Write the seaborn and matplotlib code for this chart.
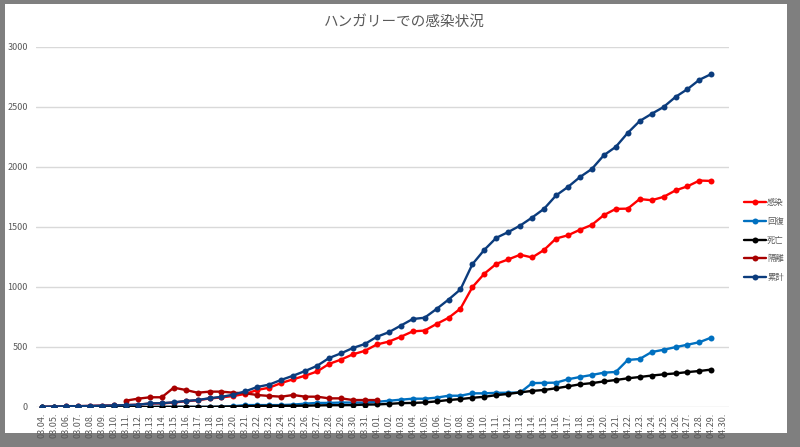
import numpy as np
import pandas as pd
import matplotlib
matplotlib.use('Agg')
import matplotlib.pyplot as plt
import seaborn as sns
from matplotlib.lines import Line2D
from matplotlib.patches import Rectangle

# x axis labels (03.04. - 04.30.)
dates = [f'03.{d:02d}.' for d in range(4, 32)] + [f'04.{d:02d}.' for d in range(1, 31)]

nan = np.nan
infected = [2, 4, 7, 7, 9, 12, 13, 16, 19, 29, 30, 37, 48, 56, 71, 80, 92, 109, 142, 161,
            200, 231, 261, 296, 359, 395, 439, 468, 521, 545, 585, 630, 637, 692, 743, 820,
            999, 1111, 1193, 1230, 1269, 1246, 1309, 1404, 1431, 1477, 1518, 1599, 1651, 1653,
            1733, 1723, 1751, 1805, 1839, 1887, 1884]
recovered = [0, 0, 0, 0, 0, 0, 0, 0, 0, 1, 1, 1, 1, 1, 1, 2, 7, 16, 16, 16,
             16, 20, 28, 34, 34, 37, 37, 37, 43, 52, 61, 69, 69, 78, 94, 94,
             114, 114, 118, 119, 121, 199, 201, 203, 231, 250, 267, 286, 292, 392,
             400, 458, 477, 499, 519, 540, 579]
deaths = [0, 0, 0, 0, 0, 0, 0, 0, 0, 0, 1, 1, 1, 1, 1, 3, 4, 6, 9, 10,
          10, 10, 11, 13, 15, 15, 16, 20, 21, 26, 32, 34, 38, 47, 58, 66,
          77, 85, 99, 109, 122, 134, 142, 156, 172, 189, 199, 213, 225, 239,
          250, 262, 272, 280, 291, 300, 312]
quarantine = [nan] * 7 + [53, 69, 81, 81, 161, 142, 119, 128, 128, 119, 114, 100, 92, 86,
                          100, 86, 86, 72, 72, 58, 58, 58] + [nan] * 28
total = [2, 4, 7, 7, 9, 12, 13, 16, 19, 30, 32, 39, 50, 58, 73, 85, 103, 131, 167, 187,
         226, 261, 300, 343, 408, 447, 492, 525, 585, 623, 678, 733, 744, 817, 895, 980,
         1190, 1310, 1410, 1458, 1512, 1579, 1652, 1763, 1834, 1916, 1984, 2098, 2168, 2284,
         2383, 2443, 2500, 2584, 2649, 2727, 2775]

names = ['感染', '回復', '死亡', '隔離', '累計']
colors = ['#FF0000', '#0070C0', '#000000', '#A80000', '#0B3C7D']

df = pd.DataFrame({'pos': np.arange(len(total)), '感染': infected, '回復': recovered,
                   '死亡': deaths, '隔離': quarantine, '累計': total})
long = df.melt(id_vars='pos', var_name='series', value_name='value').dropna()

sns.set_style('white')
plt.rcParams['font.family'] = ['Noto Sans CJK JP', 'DejaVu Sans']

fig = plt.figure(figsize=(8, 4.47), dpi=100, facecolor='#7F7F7F')
# white chart area inside the grey frame
fig.patches.append(Rectangle((5 / 800, 14 / 447), 782 / 800, 429 / 447,
                             transform=fig.transFigure, facecolor='white',
                             edgecolor='none', zorder=-5))
ax = fig.add_axes([36.3 / 800, 40 / 447, 693 / 800, 360 / 447])
ax.set_facecolor('none')
ax.set_zorder(2)

sns.lineplot(data=long, x='pos', y='value', hue='series', hue_order=names,
             palette=colors, marker='o', markersize=4.3, markeredgewidth=0,
             linewidth=1.7, errorbar=None, legend=False, ax=ax)

ax.set_xlim(-0.5, len(dates) - 0.5)
ax.set_ylim(0, 3000)
ax.set_yticks(range(0, 3001, 500))
ax.set_xticks(range(len(dates)))
ax.set_xticklabels(dates, rotation=90)
ax.tick_params(axis='both', length=0, labelsize=6.5, labelcolor='#595959')
ax.tick_params(axis='y', pad=6)
ax.tick_params(axis='x', pad=4)
ax.set_xlabel('')
ax.set_ylabel('')
ax.grid(axis='y', color='#D9D9D9', linewidth=1)
ax.set_axisbelow(True)
for s in ax.spines.values():
    s.set_visible(False)

fig.text(0.505, 0.952, 'ハンガリーでの感染状況', ha='center', va='center',
         fontsize=10.5, color='#595959', zorder=3)

handles = [Line2D([0], [0], color=c, lw=1.7, marker='o', markersize=4.3, markeredgewidth=0)
           for c in colors]
leg = fig.legend(handles, names, loc='center left', bbox_to_anchor=(0.921, 0.463),
                 frameon=False, fontsize=6, labelcolor='#595959', handlelength=2.6,
                 handletextpad=0.15, labelspacing=1.15)
leg.set_zorder(3)

fig.savefig('out.png', dpi=100, facecolor=fig.get_facecolor())
